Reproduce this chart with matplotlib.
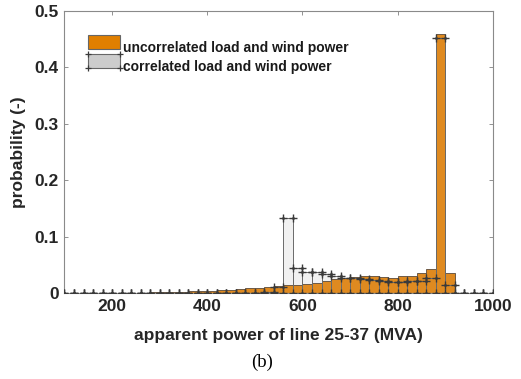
import numpy as np
import matplotlib
matplotlib.use("Agg")
import matplotlib.pyplot as plt
from matplotlib.patches import Rectangle
from matplotlib.lines import Line2D

# bin edges (MVA), width 20
bin_edges = np.arange(100, 1001, 20)
bin_width = 20

uncorrelated = [0, 0, 0, 0, 0, 0, 0, 0,
                0.001, 0.002, 0.002, 0.003, 0.003, 0.004, 0.005, 0.005,
                0.006, 0.006, 0.008, 0.009, 0.010, 0.011, 0.013, 0.014,
                0.015, 0.017, 0.019, 0.021, 0.025, 0.028, 0.029, 0.030,
                0.031, 0.029, 0.028, 0.030, 0.030, 0.036, 0.043, 0.458,
                0.036, 0, 0, 0, 0]

correlated = [0, 0, 0, 0, 0, 0, 0, 0,
              0, 0, 0, 0, 0, 0, 0, 0,
              0, 0, 0, 0, 0.001, 0.003, 0.012, 0.133,
              0.044, 0.038, 0.037, 0.034, 0.030, 0.027, 0.027, 0.025,
              0.024, 0.021, 0.020, 0.020, 0.021, 0.022, 0.027, 0.451,
              0.015, 0, 0, 0, 0]

labels = ['uncorrelated load and wind power', 'correlated load and wind power']
xticks = [200, 400, 600, 800, 1000]
yticks = [0, 0.1, 0.2, 0.3, 0.4, 0.5]

plt.rcParams['font.family'] = ['Liberation Sans', 'DejaVu Sans']

orange = '#DF8A20'
mark_col = '#3a3a3a'

fig = plt.figure(figsize=(5.21, 3.79), dpi=100)
ax = fig.add_axes([0.1238, 0.226, 0.8222, 0.746])

lefts = bin_edges[:-1]
# light gray fill of correlated bars sits behind the orange ones
ax.bar(lefts, correlated, width=bin_width, align='edge', color='#F1F1F1',
       linewidth=0, zorder=1)
ax.bar(lefts, uncorrelated, width=bin_width, align='edge', color=orange,
       edgecolor='#5a4a3a', linewidth=0.6, zorder=2)
ax.bar(lefts, correlated, width=bin_width, align='edge', fill=False,
       edgecolor='#6a6a6a', linewidth=0.7, zorder=3)

# markers at bar corners of correlated series
mx, my = [], []
for x0, h in zip(lefts, correlated):
    mx += [x0, x0 + bin_width]
    my += [h, h]
mx += list(bin_edges)
my += [0] * len(bin_edges)
ax.plot(mx, my, linestyle='none', marker='+', markersize=6, mew=1.0,
        color=mark_col, zorder=4)
ax.plot(mx, my, linestyle='none', marker='o', markersize=2, mew=0,
        color=mark_col, zorder=4)

ax.set_xlim(100, 1000)
ax.set_ylim(0, 0.5)
ax.set_xticks(xticks)
ax.set_yticks(yticks)
ax.set_yticklabels(['0', '0.1', '0.2', '0.3', '0.4', '0.5'])
ax.tick_params(direction='in', length=3, width=0.6, color='#808080',
               top=True, right=True, labelsize=12.5, labelcolor='#262626', pad=4)
for lab in ax.get_xticklabels() + ax.get_yticklabels():
    lab.set_fontweight('bold')
for sp in ax.spines.values():
    sp.set_color('#8a8a8a')
    sp.set_linewidth(0.8)

ax.set_xlabel('apparent power of line 25-37 (MVA)', fontsize=12.5,
              fontweight='bold', color='#262626', labelpad=10)
ax.set_ylabel('probability (-)', fontsize=12.5, fontweight='bold',
              color='#262626', labelpad=6)


class CornerPatchHandler:
    def __init__(self, face, markers):
        self.face = face
        self.markers = markers

    def legend_artist(self, legend, orig_handle, fontsize, handlebox):
        x0, y0 = handlebox.xdescent, handlebox.ydescent
        w, h = handlebox.width, handlebox.height
        r = Rectangle((x0, y0), w, h, facecolor=self.face, edgecolor='#666666',
                      linewidth=0.8, transform=handlebox.get_transform())
        handlebox.add_artist(r)
        if self.markers:
            ln = Line2D([x0, x0 + w, x0, x0 + w], [y0, y0, y0 + h, y0 + h],
                        linestyle='none', marker='+', markersize=4, mew=0.9,
                        color=mark_col, transform=handlebox.get_transform())
            handlebox.add_artist(ln)
        return r


h1 = Rectangle((0, 0), 1, 1)
h2 = Rectangle((0, 0), 1, 1)
leg = ax.legend([h1, h2], labels, loc='upper left', frameon=False,
                bbox_to_anchor=(0.028, 0.935), handlelength=2.35, handleheight=1.2,
                handletextpad=0.2, labelspacing=0.28, borderpad=0.3,
                prop={'weight': 'bold', 'size': 10},
                handler_map={h1: CornerPatchHandler('#E07F00', False),
                             h2: CornerPatchHandler('#CCCCCC', True)})
for t in leg.get_texts():
    t.set_color('#1a1a1a')

fig.text(0.503, 0.022, '(b)', fontsize=13.5, family='Liberation Serif',
         ha='center', va='bottom', color='black')

fig.savefig('out.png', dpi=100)
